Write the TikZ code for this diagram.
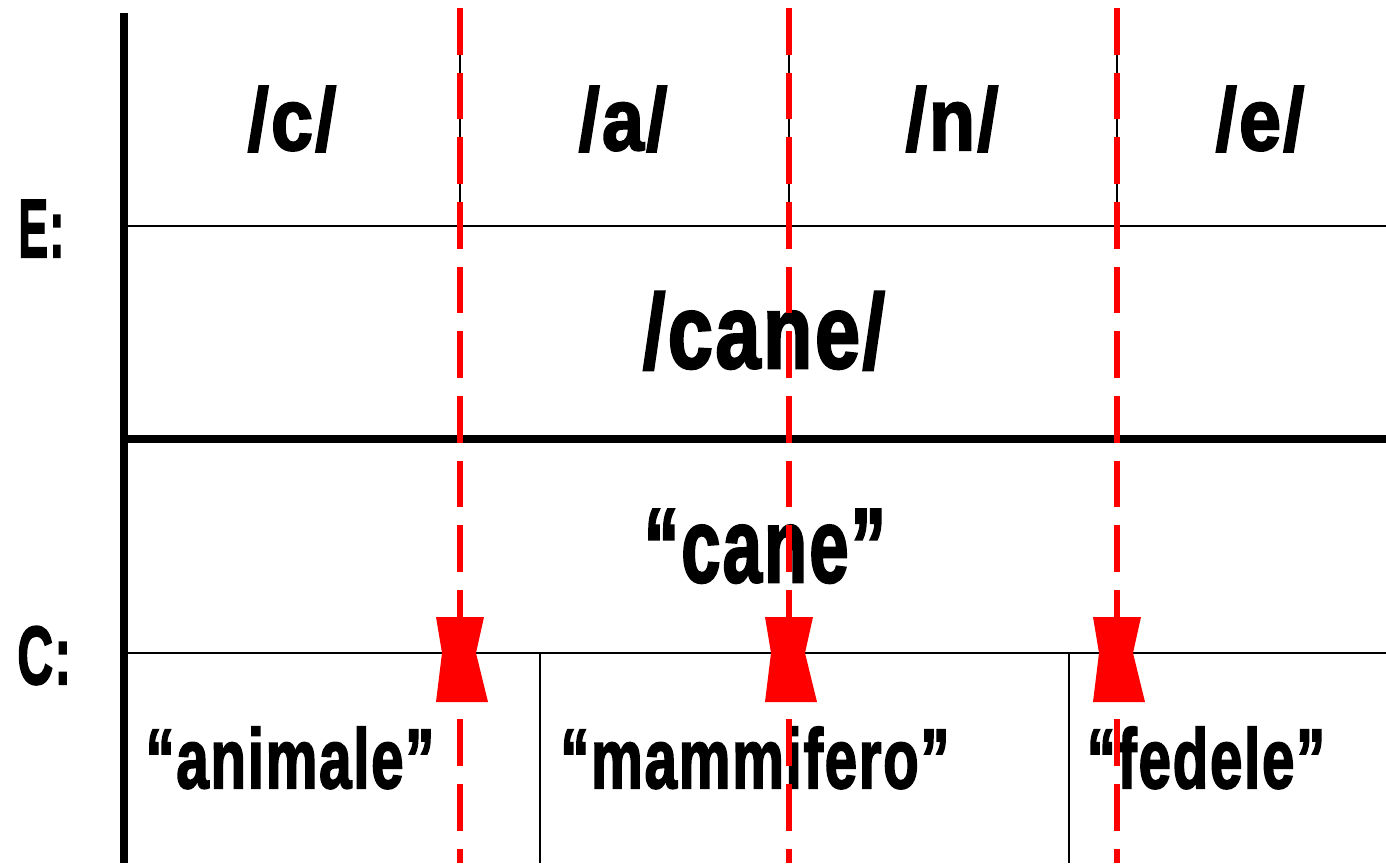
\documentclass[tikz,border=0pt]{standalone}
\usepackage{fontspec}
\setmainfont{Liberation Sans}[BoldFeatures={FakeBold=2.5,LetterSpace=3}]
\usepackage{xcolor}
\usepackage{tikz}
\usetikzlibrary{calc}
\definecolor{cut}{HTML}{FF0000}
\newcommand{\squeeze}[2]{\scalebox{#1}[1]{#2}}
\tikzset{
  axisline/.style={draw=black, line width=4.5pt},
  boldrow/.style={draw=black, line width=4.5pt},
  rowline/.style={draw=black, line width=1.5pt},
  segline/.style={draw=black, line width=1.1pt},
  cutline/.style={draw=cut, line width=3.4pt, dash pattern=on 26.6pt off 10.2pt},
  cutmark/.style={fill=cut},
  level/.style={inner sep=0pt, anchor=base west, font=\fontsize{47pt}{50pt}\selectfont\bfseries},
  phon/.style={inner sep=0pt, anchor=base, font=\fontsize{50pt}{55pt}\selectfont\bfseries},
  word/.style={inner sep=0pt, anchor=base, font=\fontsize{60pt}{65pt}\selectfont\bfseries},
  gloss/.style={inner sep=0pt, anchor=base, font=\fontsize{48pt}{52pt}\selectfont\bfseries},
}

\begin{document}
\begin{tikzpicture}[x=0.02cm, y=-0.02cm]
  \useasboundingbox (0,0) rectangle (1386,863);
  % frame
  \draw[axisline] (124,13) -- (124,863);
  \draw[rowline] (128,226) -- (1386,226);
  \draw[boldrow] (124,439) -- (1386,439);
  \draw[rowline] (128,653) -- (1386,653);
  \foreach \sx in {460,789,1117}
    \draw[segline] (\sx,13) -- (\sx,226);
  \draw[rowline] (540,653) -- (540,863);
  \draw[rowline] (1069,653) -- (1069,863);
  % levels
  \node[level] (expr) at (18,257) {\squeeze{0.54}{E:}};
  \node[level] (cont) at (17,684) {\squeeze{0.6}{C:}};
  % expression plane
  \node[phon] (pc) at (292,150) {\squeeze{0.86}{/c/}};
  \node[phon] (pa) at (623,150) {\squeeze{0.86}{/a/}};
  \node[phon] (pn) at (952,150) {\squeeze{0.86}{/n/}};
  \node[phon] (pe) at (1260,150) {\squeeze{0.86}{/e/}};
  \node[word] (form) at (764,368) {\squeeze{0.77}{/cane/}};
  % content plane
  \node[word] (sense) at (765,582) {\squeeze{0.67}{“cane”}};
  \node[gloss] (animale) at (290,788) {\squeeze{0.69}{“animale”}};
  \node[gloss] (mammifero) at (755,788) {\squeeze{0.69}{“mammifero”}};
  \node[gloss] (fedele) at (1206,788) {\squeeze{0.69}{“fedele”}};
  % cuts
  \foreach \cx in {460,789,1117}{
    \fill[cutmark] (\cx-24,617) -- (\cx+24,617) -- (\cx+16,653) -- (\cx+28,702)
      -- (\cx-24,702) -- (\cx-18,653) -- cycle;
    \draw[cutline] (\cx,8) -- (\cx,863);
  }
\end{tikzpicture}
\end{document}
